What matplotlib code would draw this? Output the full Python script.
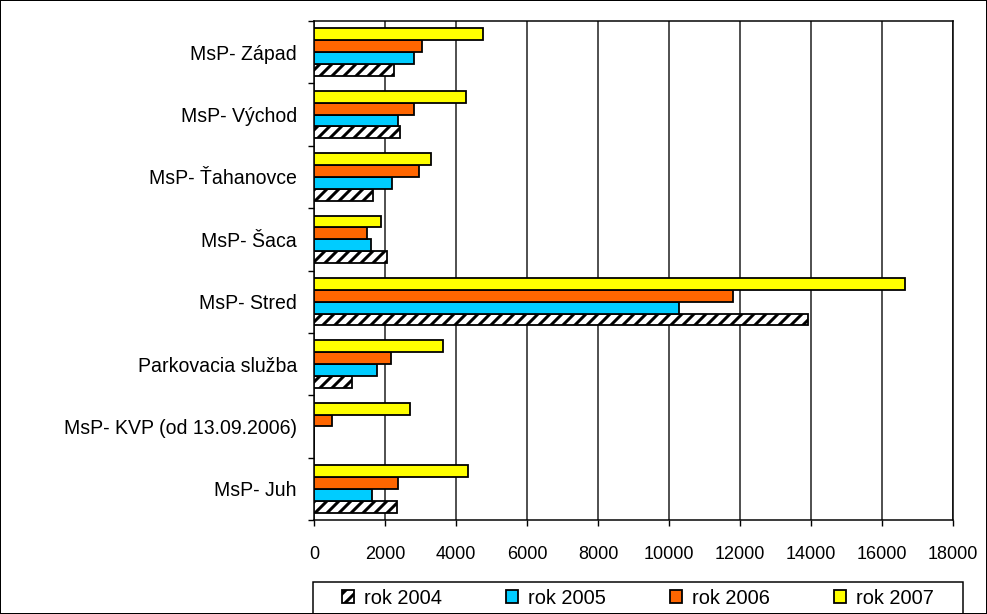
import matplotlib
matplotlib.use("Agg")
import matplotlib.pyplot as plt
from matplotlib.patches import Rectangle
import numpy as np

# categories, bottom to top
categories = ["MsP- Juh", "MsP- KVP (od 13.09.2006)", "Parkovacia služba",
              "MsP- Stred", "MsP- Šaca", "MsP- Ťahanovce", "MsP- Východ", "MsP- Západ"]

rok_2004 = [2330, 0, 1080, 13925, 2050, 1660, 2420, 2260]
rok_2005 = [1625, 0, 1785, 10270, 1605, 2200, 2375, 2820]
rok_2006 = [2375, 515, 2160, 11790, 1500, 2970, 2820, 3030]
rok_2007 = [4350, 2700, 3640, 16650, 1890, 3300, 4280, 4770]

series_names = ["rok 2004", "rok 2005", "rok 2006", "rok 2007"]
x_ticks = [0, 2000, 4000, 6000, 8000, 10000, 12000, 14000, 16000, 18000]

plt.rcParams['font.family'] = ['Liberation Sans', 'DejaVu Sans']
plt.rcParams['hatch.linewidth'] = 3.0

W, H = 987, 614
# dpi 72 -> 1 pt = 1 px, '//' hatch gets ~12 px spacing
fig = plt.figure(figsize=(W / 72, H / 72), dpi=72,
                 facecolor='white', edgecolor='black', linewidth=2)
ax = fig.add_axes([314 / W, 1 - 520 / H, 639 / W, 499 / H])
ax.set_facecolor('white')

y = np.arange(len(categories))
h = 0.19
ew = 1.8

ax.barh(y - 1.5 * h, rok_2004, h, color='white', edgecolor='black',
        hatch='//', linewidth=ew, label=series_names[0], zorder=3)
ax.barh(y - 0.5 * h, rok_2005, h, color='#00ccff', edgecolor='black',
        linewidth=ew, label=series_names[1], zorder=3)
ax.barh(y + 0.5 * h, rok_2006, h, color='#ff6600', edgecolor='black',
        linewidth=ew, label=series_names[2], zorder=3)
ax.barh(y + 1.5 * h, rok_2007, h, color='#ffff00', edgecolor='black',
        linewidth=ew, label=series_names[3], zorder=3)

ax.set_xlim(0, 18000)
ax.set_ylim(-0.5, len(categories) - 0.5)
ax.set_xticks(x_ticks)
ax.set_xticklabels([str(v) for v in x_ticks], fontsize=18)
ax.set_yticks(y)
ax.set_yticklabels(categories, fontsize=19.5)
ax.set_yticks(np.arange(len(categories) + 1) - 0.5, minor=True)
ax.tick_params(axis='y', which='major', length=0, pad=17)
ax.tick_params(axis='y', which='minor', length=6, width=1.4, color='black')
ax.tick_params(axis='x', length=6, width=1.4, pad=20)

ax.grid(axis='x', color='#1a1a1a', linewidth=1.5, zorder=0)
for s in ax.spines.values():
    s.set_color('black')
    s.set_linewidth(1.5)

# legend without frame, box drawn separately
leg = ax.legend(loc='center', bbox_to_anchor=(638 / W, 1 - 598 / H),
                bbox_transform=fig.transFigure, ncol=4, fontsize=20,
                frameon=False, handlelength=0.6, handleheight=0.6,
                handletextpad=0.5, columnspacing=3.2, borderpad=0,
                borderaxespad=0)
fig.patches.append(Rectangle((313 / W, 0.0), 650 / W, (614 - 582) / H,
                             transform=fig.transFigure, facecolor='none',
                             edgecolor='black', linewidth=1.5, zorder=5))

plt.savefig("out.png", dpi=72, facecolor=fig.get_facecolor(), edgecolor='black')
